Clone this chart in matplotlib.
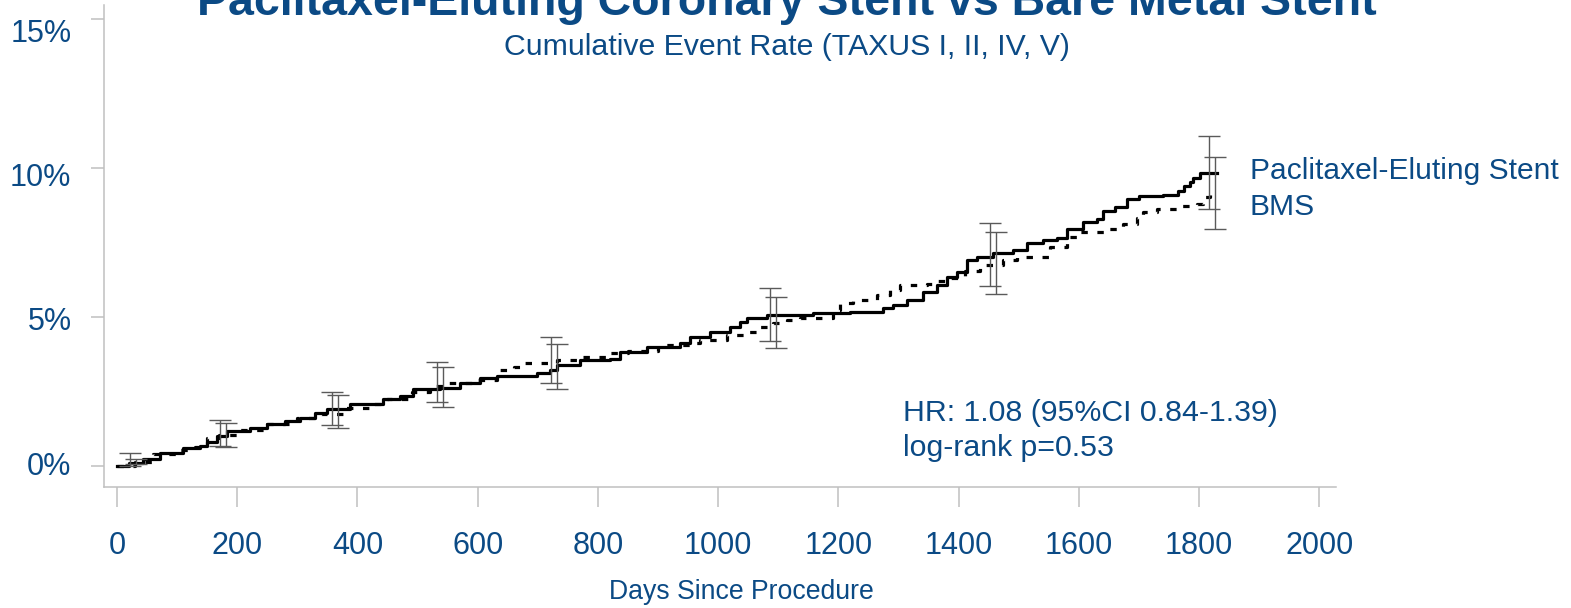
import matplotlib
matplotlib.use("Agg")
import matplotlib.pyplot as plt
from matplotlib.transforms import ScaledTranslation

plt.rcParams["font.family"] = ["Liberation Sans", "DejaVu Sans"]

# Kaplan-Meier style cumulative event rates (%)
pes_days = [0, 20, 43, 72, 110, 138, 150, 166, 183, 221, 250, 280, 305, 330, 349,
            388, 443, 471, 493, 537, 571, 604, 632, 699, 720, 732, 770, 820, 837,
            882, 937, 953, 987, 1020, 1037, 1048, 1082, 1158, 1220, 1275, 1291,
            1315, 1341, 1365, 1381, 1398, 1414, 1431, 1458, 1491, 1514, 1541,
            1564, 1581, 1607, 1631, 1641, 1660, 1680, 1700, 1740, 1765, 1775,
            1785, 1790, 1802, 1830]
pes_rate = [0.0, 0.10, 0.24, 0.44, 0.61, 0.68, 0.80, 1.01, 1.18, 1.28, 1.42, 1.52,
            1.62, 1.78, 1.93, 2.09, 2.26, 2.36, 2.60, 2.63, 2.80, 2.94, 3.04, 3.11,
            3.21, 3.38, 3.55, 3.61, 3.82, 3.99, 4.12, 4.32, 4.49, 4.66, 4.83, 4.97,
            5.07, 5.13, 5.17, 5.30, 5.40, 5.57, 5.84, 6.08, 6.35, 6.52, 6.93, 7.03,
            7.16, 7.26, 7.50, 7.60, 7.67, 7.94, 8.18, 8.28, 8.55, 8.70, 8.95, 9.05,
            9.10, 9.22, 9.39, 9.53, 9.66, 9.83, 9.83]

bms_days = [0, 30, 60, 100, 130, 150, 170, 200, 250, 300, 340, 380, 420, 450, 490,
            520, 550, 600, 632, 660, 677, 732, 770, 815, 850, 900, 953, 970, 1015,
            1045, 1070, 1092, 1115, 1137, 1191, 1203, 1225, 1265, 1286, 1303, 1348,
            1365, 1385, 1410, 1436, 1474, 1498, 1524, 1552, 1581, 1602, 1647, 1674,
            1697, 1707, 1731, 1769, 1797, 1807, 1819, 1827]
bms_rate = [0.0, 0.15, 0.40, 0.55, 0.65, 0.95, 1.05, 1.22, 1.40, 1.60, 1.75, 1.95,
            2.10, 2.25, 2.50, 2.70, 2.80, 2.90, 3.21, 3.31, 3.45, 3.55, 3.65, 3.78,
            3.85, 4.05, 4.12, 4.22, 4.39, 4.50, 4.66, 4.80, 4.90, 4.97, 5.24, 5.47,
            5.57, 5.74, 5.91, 6.08, 6.11, 6.20, 6.30, 6.55, 6.76, 6.93, 7.03, 7.03,
            7.36, 7.70, 7.84, 7.94, 8.11, 8.31, 8.51, 8.61, 8.72, 8.78, 9.02, 9.19,
            9.19]

# 95% CI at landmark days
ci_days = [30, 180, 365, 540, 730, 1095, 1460, 1825]
pes_lo = [0.00, 0.68, 1.39, 2.16, 2.80, 4.19, 6.05, 8.61]
pes_hi = [0.44, 1.55, 2.50, 3.48, 4.32, 5.98, 8.14, 11.08]
bms_lo = [0.07, 0.64, 1.28, 1.99, 2.60, 3.95, 5.78, 7.97]
bms_hi = [0.24, 1.45, 2.40, 3.31, 4.09, 5.68, 7.84, 10.37]

x_ticks = [0, 200, 400, 600, 800, 1000, 1200, 1400, 1600, 1800, 2000]
y_ticks = [0, 5, 10, 15]
y_labels = ["0%", "5%", "10%", "15%"]

BLUE = "#0b4a85"
GREY = "#c0c0c0"
W, H = 1571, 608

fig = plt.figure(figsize=(W / 100, H / 100), dpi=100)
ax = fig.add_axes([104 / W, 1 - 487 / H, (1336 - 104) / W, (487 - 5) / H])

ax.plot(pes_days, pes_rate, drawstyle="steps-post", color="black", lw=2.3)
ax.plot(bms_days, bms_rate, drawstyle="steps-post", color="black", lw=2.3,
        linestyle=(0, (2, 3)))

for days, lo, hi, dx in [(ci_days, pes_lo, pes_hi, -8), (ci_days, bms_lo, bms_hi, 2)]:
    xs = [d + dx for d in days]
    mid = [(a + b) / 2 for a, b in zip(lo, hi)]
    half = [(b - a) / 2 for a, b in zip(lo, hi)]
    ax.errorbar(xs, mid, yerr=half, fmt="none", ecolor="#5a5a5a",
                elinewidth=1.0, capsize=8, capthick=1.0)

ax.set_xlim(-21.6, 2028)
ax.set_ylim(-0.70, 15.47)
ax.set_xticks(x_ticks)
ax.set_yticks(y_ticks)
ax.set_yticklabels(y_labels)

for s in ["top", "right"]:
    ax.spines[s].set_visible(False)
for s in ["left", "bottom"]:
    ax.spines[s].set_color(GREY)
    ax.spines[s].set_linewidth(1.1)
ax.tick_params(axis="x", direction="out", length=14.4, width=1.1, color=GREY,
               labelsize=22, labelcolor=BLUE, pad=17)
ax.tick_params(axis="y", direction="out", length=9.4, width=1.1, color=GREY,
               labelsize=22, labelcolor=BLUE, pad=14)

# the y labels in the original sit a little off their ticks
for lab, dy in zip(ax.get_yticklabels(), [-3, 1, 6, 11]):
    lab.set_transform(lab.get_transform() + ScaledTranslation(0, -dy / 100, fig.dpi_scale_trans))

fig.text(787 / W, 1 - 15 / H, "Paclitaxel-Eluting Coronary Stent vs Bare Metal Stent",
         ha="center", va="baseline", fontsize=33.5, fontweight="bold", color=BLUE)
fig.text(787 / W, 1 - 55 / H, "Cumulative Event Rate (TAXUS I, II, IV, V)",
         ha="center", va="baseline", fontsize=21.8, color=BLUE)
fig.text(741 / W, 1 - 592 / H, "Days Since Procedure",
         ha="center", va="center", fontsize=19.2, color=BLUE)

fig.text(1250 / W, 1 - 171 / H, "Paclitaxel-Eluting Stent",
         ha="left", va="center", fontsize=21.6, color=BLUE)
fig.text(1250 / W, 1 - 207 / H, "BMS",
         ha="left", va="center", fontsize=21.6, color=BLUE)

fig.text(903 / W, 1 - 413 / H, "HR: 1.08 (95%CI 0.84-1.39)",
         ha="left", va="center", fontsize=21.8, color=BLUE)
fig.text(903 / W, 1 - 448 / H, "log-rank p=0.53",
         ha="left", va="center", fontsize=21.8, color=BLUE)

fig.savefig("out.png", dpi=100)
